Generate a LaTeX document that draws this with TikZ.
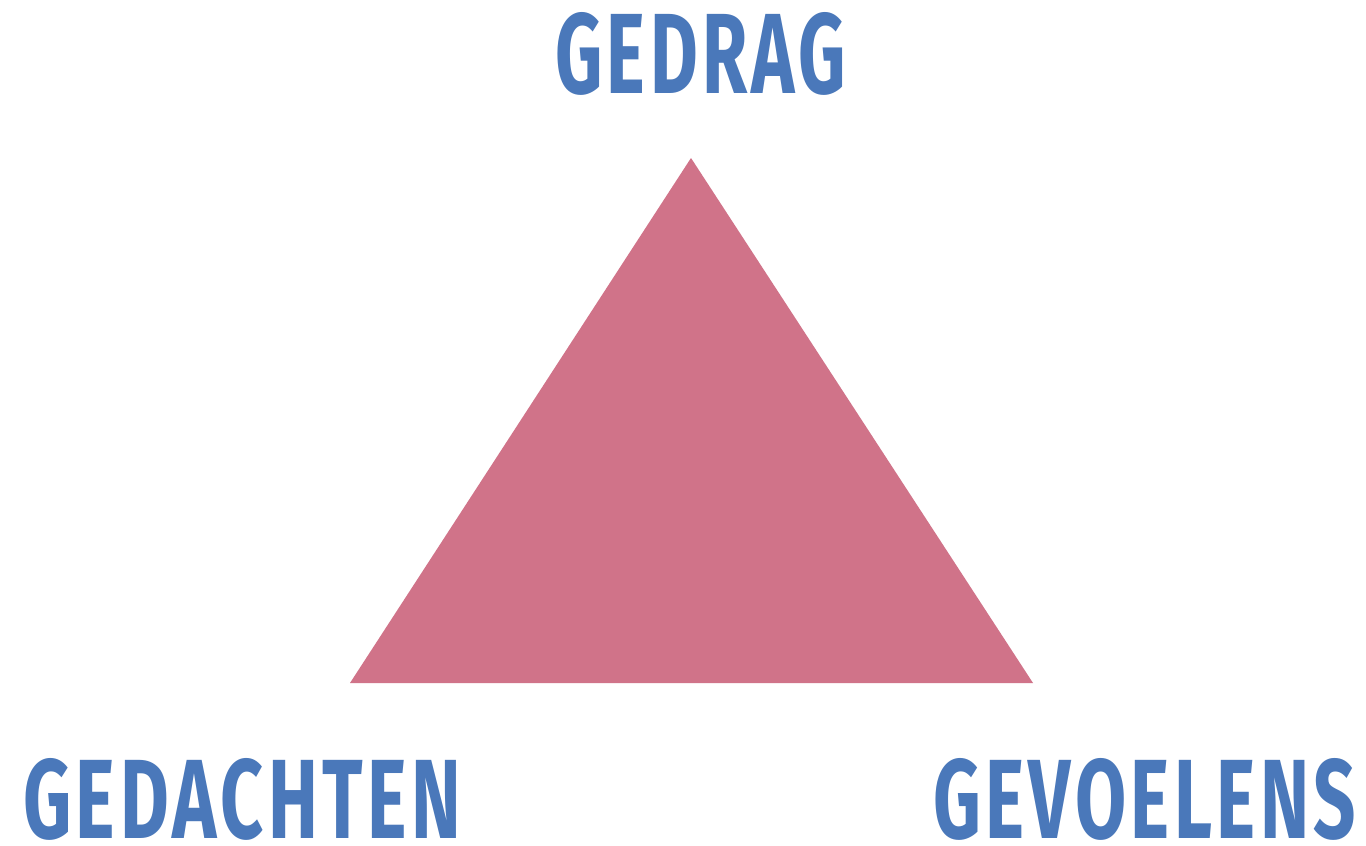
\documentclass[tikz,border=0pt]{standalone}
\usepackage{fontspec}
\usepackage{graphicx}
\setmainfont{Fira Sans}
\newfontfamily\labfont[LetterSpace=6]{Fira Sans}
\definecolor{tri}{HTML}{D07389}
\definecolor{lbl}{HTML}{4A78BA}
\begin{document}
\begin{tikzpicture}[x=1pt,y=-1pt,
  lab/.style={inner sep=0pt,anchor=north west,text=lbl,font=\labfont\bfseries}]
\useasboundingbox (0,0) rectangle (1366,846);
\fill[white] (0,0) rectangle (1366,846);
\coordinate (top) at (691,158);
\coordinate (bl) at (350,683);
\coordinate (br) at (1033,683);
\fill[tri] (top) -- (br) -- (bl) -- cycle;
\node[lab] (gedrag) at (555,12) {\resizebox{291pt}{81pt}{GEDRAG}};
\node[lab] (gedachten) at (23,758) {\resizebox{438pt}{80pt}{GEDACHTEN}};
\node[lab] (gevoelens) at (933,758) {\resizebox{423pt}{80pt}{GEVOELENS}};
\end{tikzpicture}
\end{document}
